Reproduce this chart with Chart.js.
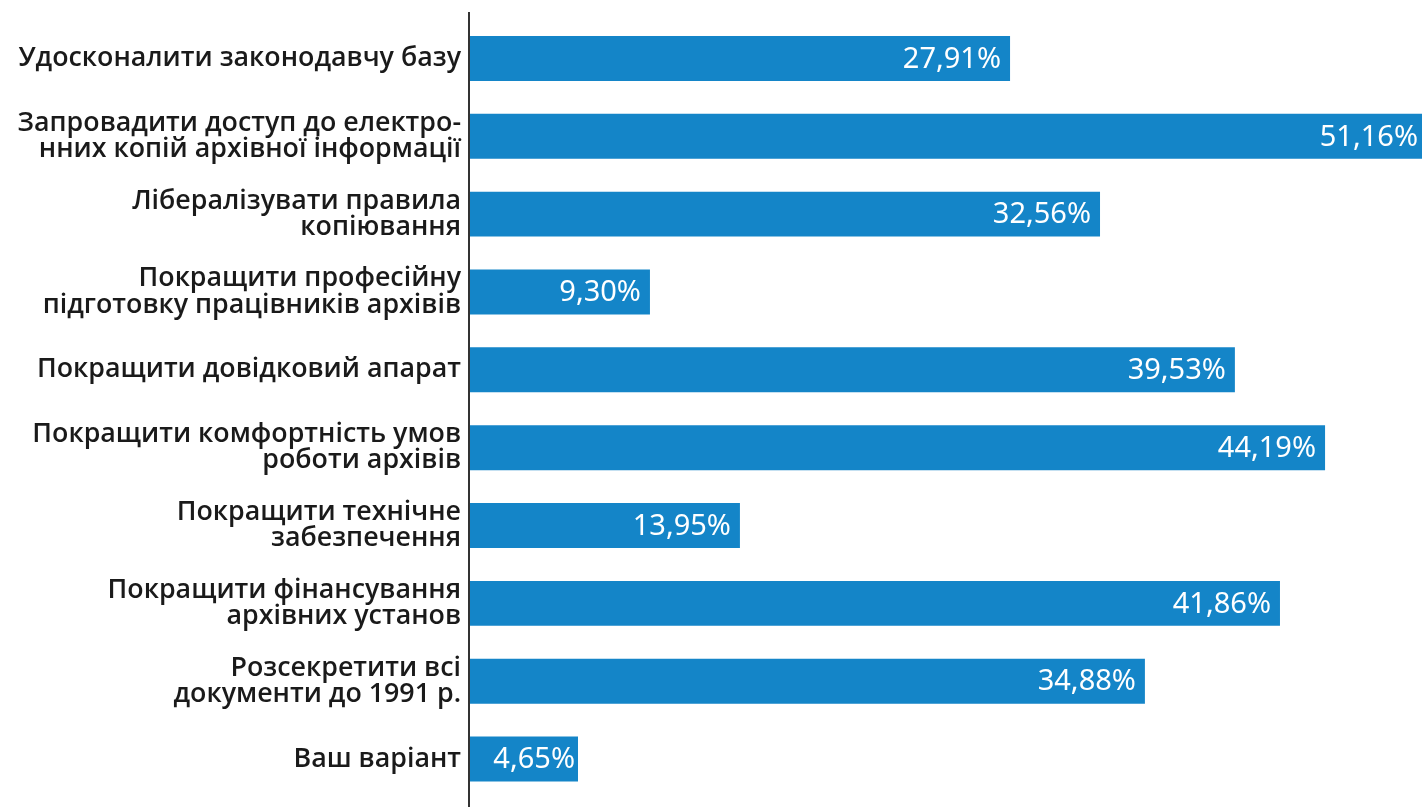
<!DOCTYPE html>
<html>
<head>
<meta charset="utf-8">
<script src="https://cdn.jsdelivr.net/npm/chart.js@4"></script>
<style>
  html, body { margin: 0; padding: 0; background: #fff; }
  #wrap { width: 1422px; height: 807px; position: relative; }
</style>
</head>
<body>
<div id="wrap"><canvas id="chart"></canvas></div>
<script>
const categories = [
  'Удосконалити законодавчу базу',
  ['Запровадити доступ до електро-', 'нних копій архівної інформації'],
  ['Лібералізувати правила', 'копіювання'],
  ['Покращити професійну', 'підготовку працівників архівів'],
  'Покращити довідковий апарат',
  ['Покращити комфортність умов', 'роботи архівів'],
  ['Покращити технічне', 'забезпечення'],
  ['Покращити фінансування', 'архівних установ'],
  ['Розсекретити всі', 'документи до 1991 р.'],
  'Ваш варіант'
];
const values = [27.91, 51.16, 32.56, 9.30, 39.53, 44.19, 13.95, 41.86, 34.88, 4.65];
const valueLabels = ['27,91%', '51,16%', '32,56%', '9,30%', '39,53%', '44,19%', '13,95%', '41,86%', '34,88%', '4,65%'];

const barColor = '#1485c8';
const textColor = '#1a1a1a';

// value labels inside the bars, white, right aligned
const valueLabelPlugin = {
  id: 'valueLabels',
  afterDatasetsDraw(chart) {
    const ctx = chart.ctx;
    const meta = chart.getDatasetMeta(0);
    const area = chart.chartArea;
    const xs = chart.scales.x;
    ctx.save();
    ctx.font = '400 29px "Noto Sans"';
    ctx.fillStyle = '#ffffff';
    ctx.textAlign = 'right';
    ctx.textBaseline = 'middle';
    meta.data.forEach((bar, i) => {
      let gap = 9;
      if (bar.x > area.right) gap = 4;
      if (xs.getPixelForValue(values[i]) < bar.x - 1) gap = 3;
      const right = Math.min(bar.x, area.right) - gap;
      ctx.fillText(valueLabels[i], right, bar.y + 1);
    });
    ctx.restore();
  }
};

// vertical axis line running the full height
const axisLinePlugin = {
  id: 'axisLine',
  afterDraw(chart) {
    const ctx = chart.ctx;
    const x = chart.chartArea.left - 1;
    ctx.save();
    ctx.strokeStyle = '#333333';
    ctx.lineWidth = 2;
    ctx.beginPath();
    ctx.moveTo(x, 12);
    ctx.lineTo(x, 807);
    ctx.stroke();
    ctx.restore();
  }
};

new Chart(document.getElementById('chart'), {
  type: 'bar',
  data: {
    labels: categories,
    datasets: [{
      data: values,
      backgroundColor: barColor,
      borderWidth: 0,
      barPercentage: 0.577,
      categoryPercentage: 1,
      minBarLength: 108
    }]
  },
  options: {
    indexAxis: 'y',
    responsive: true,
    maintainAspectRatio: false,
    animation: false,
    layout: { padding: { top: 19.5, bottom: 9, left: 0, right: 0 } },
    scales: {
      x: {
        display: false,
        min: 0,
        max: 49.2
      },
      y: {
        afterFit(scale) {
          scale.width = 470;
          scale.paddingTop = 0;
          scale.paddingBottom = 0;
        },
        grid: { display: false, drawTicks: false },
        border: { display: false },
        ticks: {
          color: textColor,
          padding: 9,
          font: { family: 'Open Sans', size: 26.8, weight: '600', lineHeight: 0.98 }
        }
      }
    },
    plugins: {
      legend: { display: false },
      tooltip: { enabled: false }
    }
  },
  plugins: [valueLabelPlugin, axisLinePlugin]
});
</script>
</body>
</html>
